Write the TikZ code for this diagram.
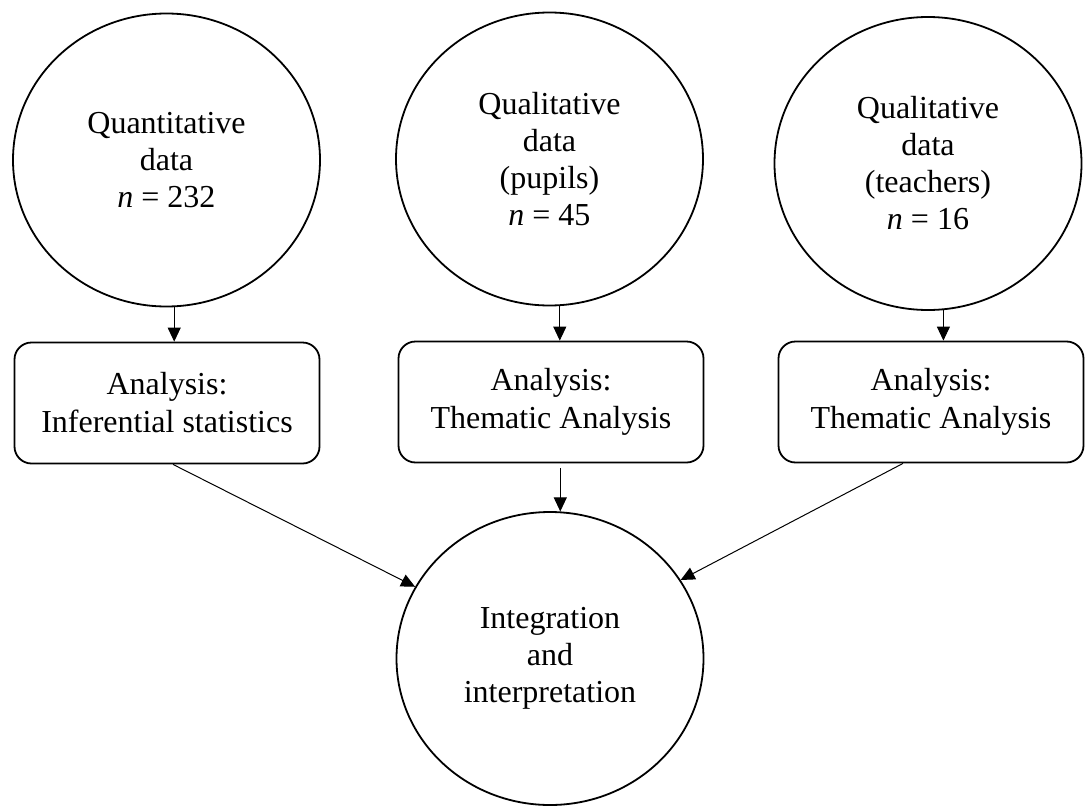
\documentclass[tikz,border=0pt]{standalone}
\usepackage{fontspec}
\setmainfont{Liberation Serif}
\usetikzlibrary{shapes.geometric,arrows.meta}
\begin{document}
\begin{tikzpicture}[x=1pt,y=-1pt,
  datacircle/.style={draw,line width=1.8pt,ellipse,inner sep=0pt,
    minimum width=307pt,minimum height=293pt,align=center,
    font=\fontsize{32}{37}\selectfont},
  stagebox/.style={draw,line width=1.8pt,rectangle,rounded corners=17pt,
    minimum width=305pt,minimum height=121pt,align=center,
    font=\fontsize{32}{38}\selectfont},
  link/.style={line width=1pt,-{Triangle[length=14pt,width=13pt]}}]
\useasboundingbox (0,0) rectangle (1085,806);

% data sources
\node[datacircle] (c1) at (166.5,160) {Quantitative\\data\\\textit{n} = 232};
\node[datacircle] (c2) at (549.5,159) {Qualitative\\data\\(pupils)\\\textit{n} = 45};
\node[datacircle] (c3) at (928,163.5) {Qualitative\\data\\(teachers)\\\textit{n} = 16};

% analysis stages
\node[stagebox] (a1) at (167,403) {Analysis:\\Inferential statistics};
\node[stagebox] (a2) at (551,402) {Analysis:\\Thematic Analysis};
\node[stagebox] (a3) at (931,402) {Analysis:\\Thematic Analysis};

% integration
\node[datacircle] (c4) at (550,658.5) {Integration\\and\\interpretation};

% connectors
\draw[link] (c1.-87) -- (c1.-87 |- a1.north);
\draw[link] (c2.-86.5) -- (c2.-86.5 |- a2.north);
\draw[link] (c3.-84.5) -- (c3.-84.5 |- a3.north);
\draw[link] ([xshift=6pt]a1.south) -- (c4.152);
\draw[link,shorten <=5pt] (a2.south -| c4.86) -- (c4.86);
\draw[link] ([xshift=-28pt]a3.south) -- (c4.31);
\end{tikzpicture}
\end{document}
